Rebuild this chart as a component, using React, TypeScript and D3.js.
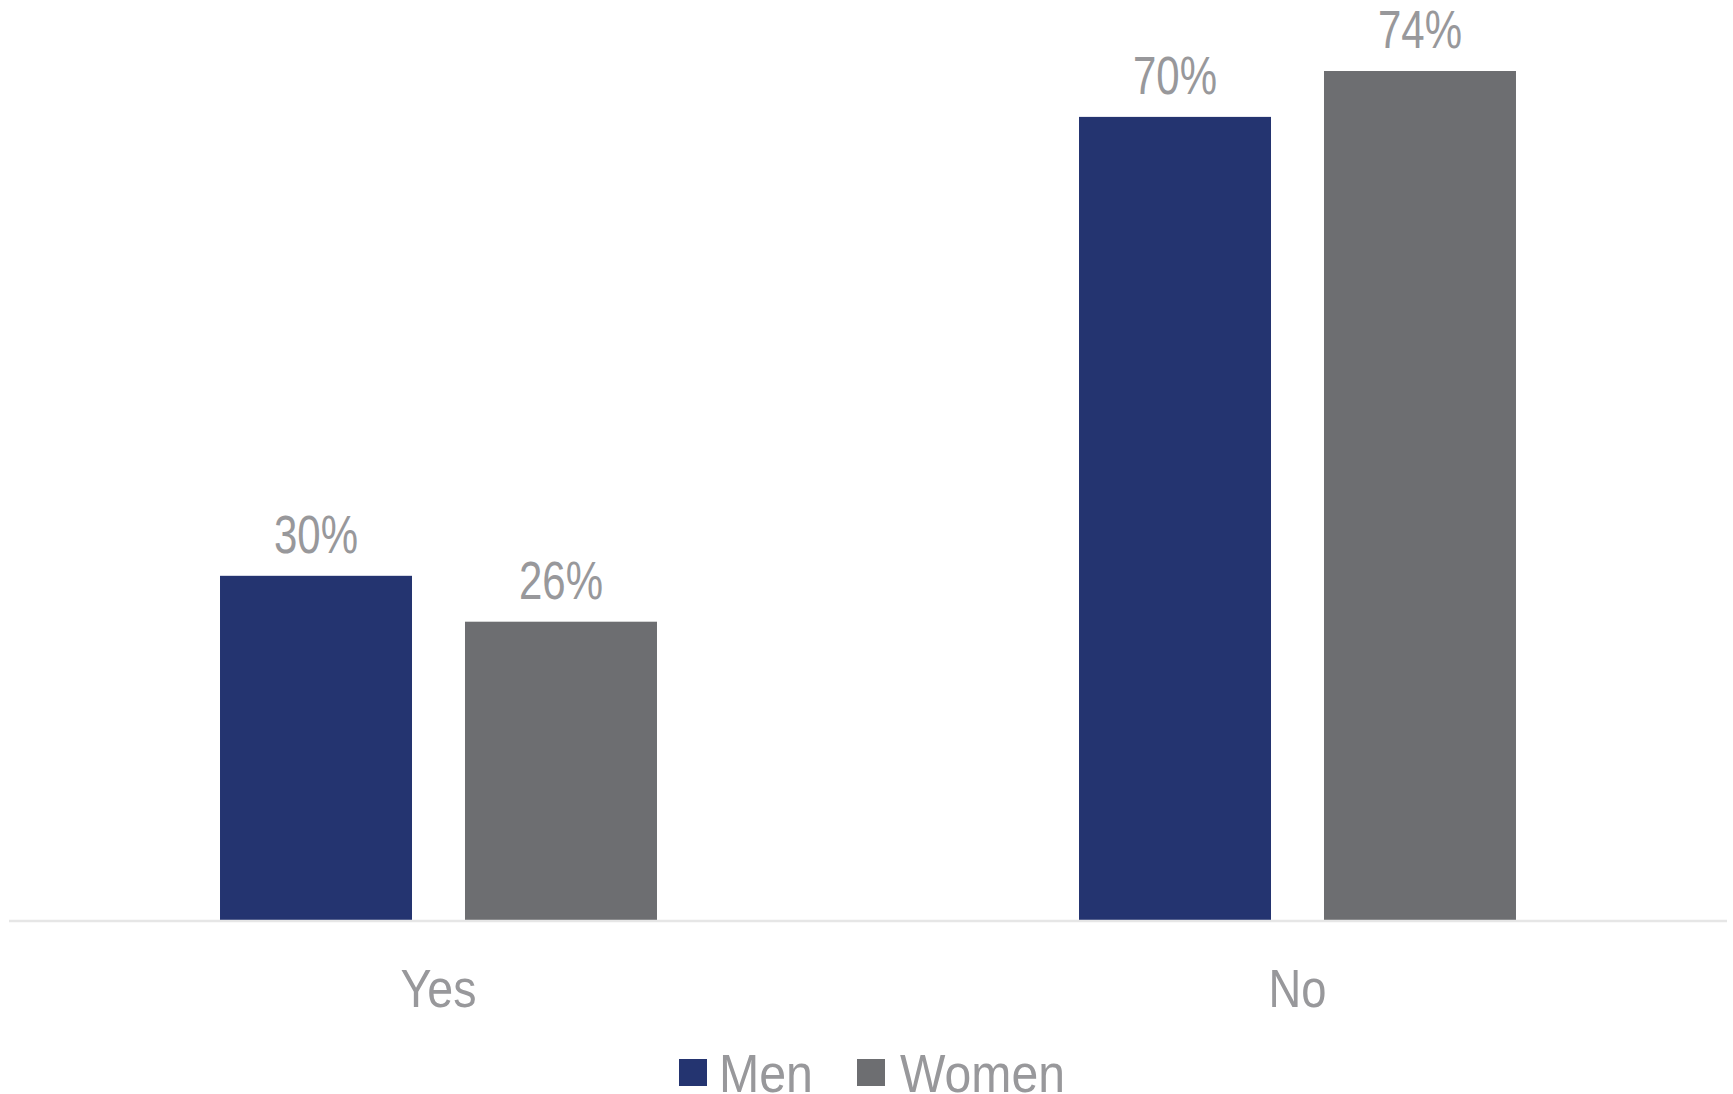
import React from "react";
import * as d3 from "d3";

const categories = ["Yes", "No"];
const seriesNames = ["Men", "Women"];
const menValues = [0.30, 0.70];
const womenValues = [0.26, 0.74];
const seriesColors = ["#243470", "#6d6e71"];

const W = 1733;
const H = 1094;
const TEXT = "#98989b";
const FONT = "'Liberation Sans', Arial, sans-serif";

export default function App() {
  const x0 = d3.scaleBand<string>().domain(categories).range([9, 1727]).paddingInner(0.4913).paddingOuter(0.4913 / 2);
  const x1 = d3.scaleBand<string>().domain(seriesNames).range([0, x0.bandwidth()]).paddingInner(0.2163);
  const y = d3.scaleLinear().domain([0, 0.74]).range([920, 71]);
  const series = [menValues, womenValues];
  const fmt = d3.format(".0%");
  const legendItems = [
    { name: "Men", sq: 679, tx: 719, len: 94 },
    { name: "Women", sq: 857, tx: 900, len: 165 },
  ];
  const catLen: Record<string, number> = { Yes: 76, No: 58 };

  return (
    <svg width={W} height={H} style={{ position: "absolute", left: 0, top: 0 }} fontFamily={FONT}>
      <rect width={W} height={H} fill="#fff" />
      {categories.map((c, ci) => (
        <g key={c} transform={`translate(${x0(c)},0)`}>
          {seriesNames.map((s, si) => {
            const v = series[si][ci];
            const bx = x1(s)!;
            const bw = x1.bandwidth();
            return (
              <g key={s}>
                <rect x={bx} y={y(v)} width={bw} height={y(0) - y(v)} fill={seriesColors[si]} />
                <text
                  x={bx + bw / 2}
                  y={y(v) - 23}
                  textAnchor="middle"
                  fontSize={53}
                  fill={TEXT}
                  textLength={84}
                  lengthAdjust="spacingAndGlyphs"
                >
                  {fmt(v)}
                </text>
              </g>
            );
          })}
          <text
            x={x0.bandwidth() / 2}
            y={1007}
            textAnchor="middle"
            fontSize={53}
            fill={TEXT}
            textLength={catLen[c]}
            lengthAdjust="spacingAndGlyphs"
          >
            {c}
          </text>
        </g>
      ))}
      <line x1={9} x2={1727} y1={921} y2={921} stroke="#e6e6e6" strokeWidth={2.5} />
      {legendItems.map((it, i) => (
        <g key={it.name}>
          <rect x={it.sq} y={1059} width={28} height={27} fill={seriesColors[i]} />
          <text x={it.tx} y={1092} fontSize={53} fill={TEXT} textLength={it.len} lengthAdjust="spacingAndGlyphs">
            {it.name}
          </text>
        </g>
      ))}
    </svg>
  );
}
